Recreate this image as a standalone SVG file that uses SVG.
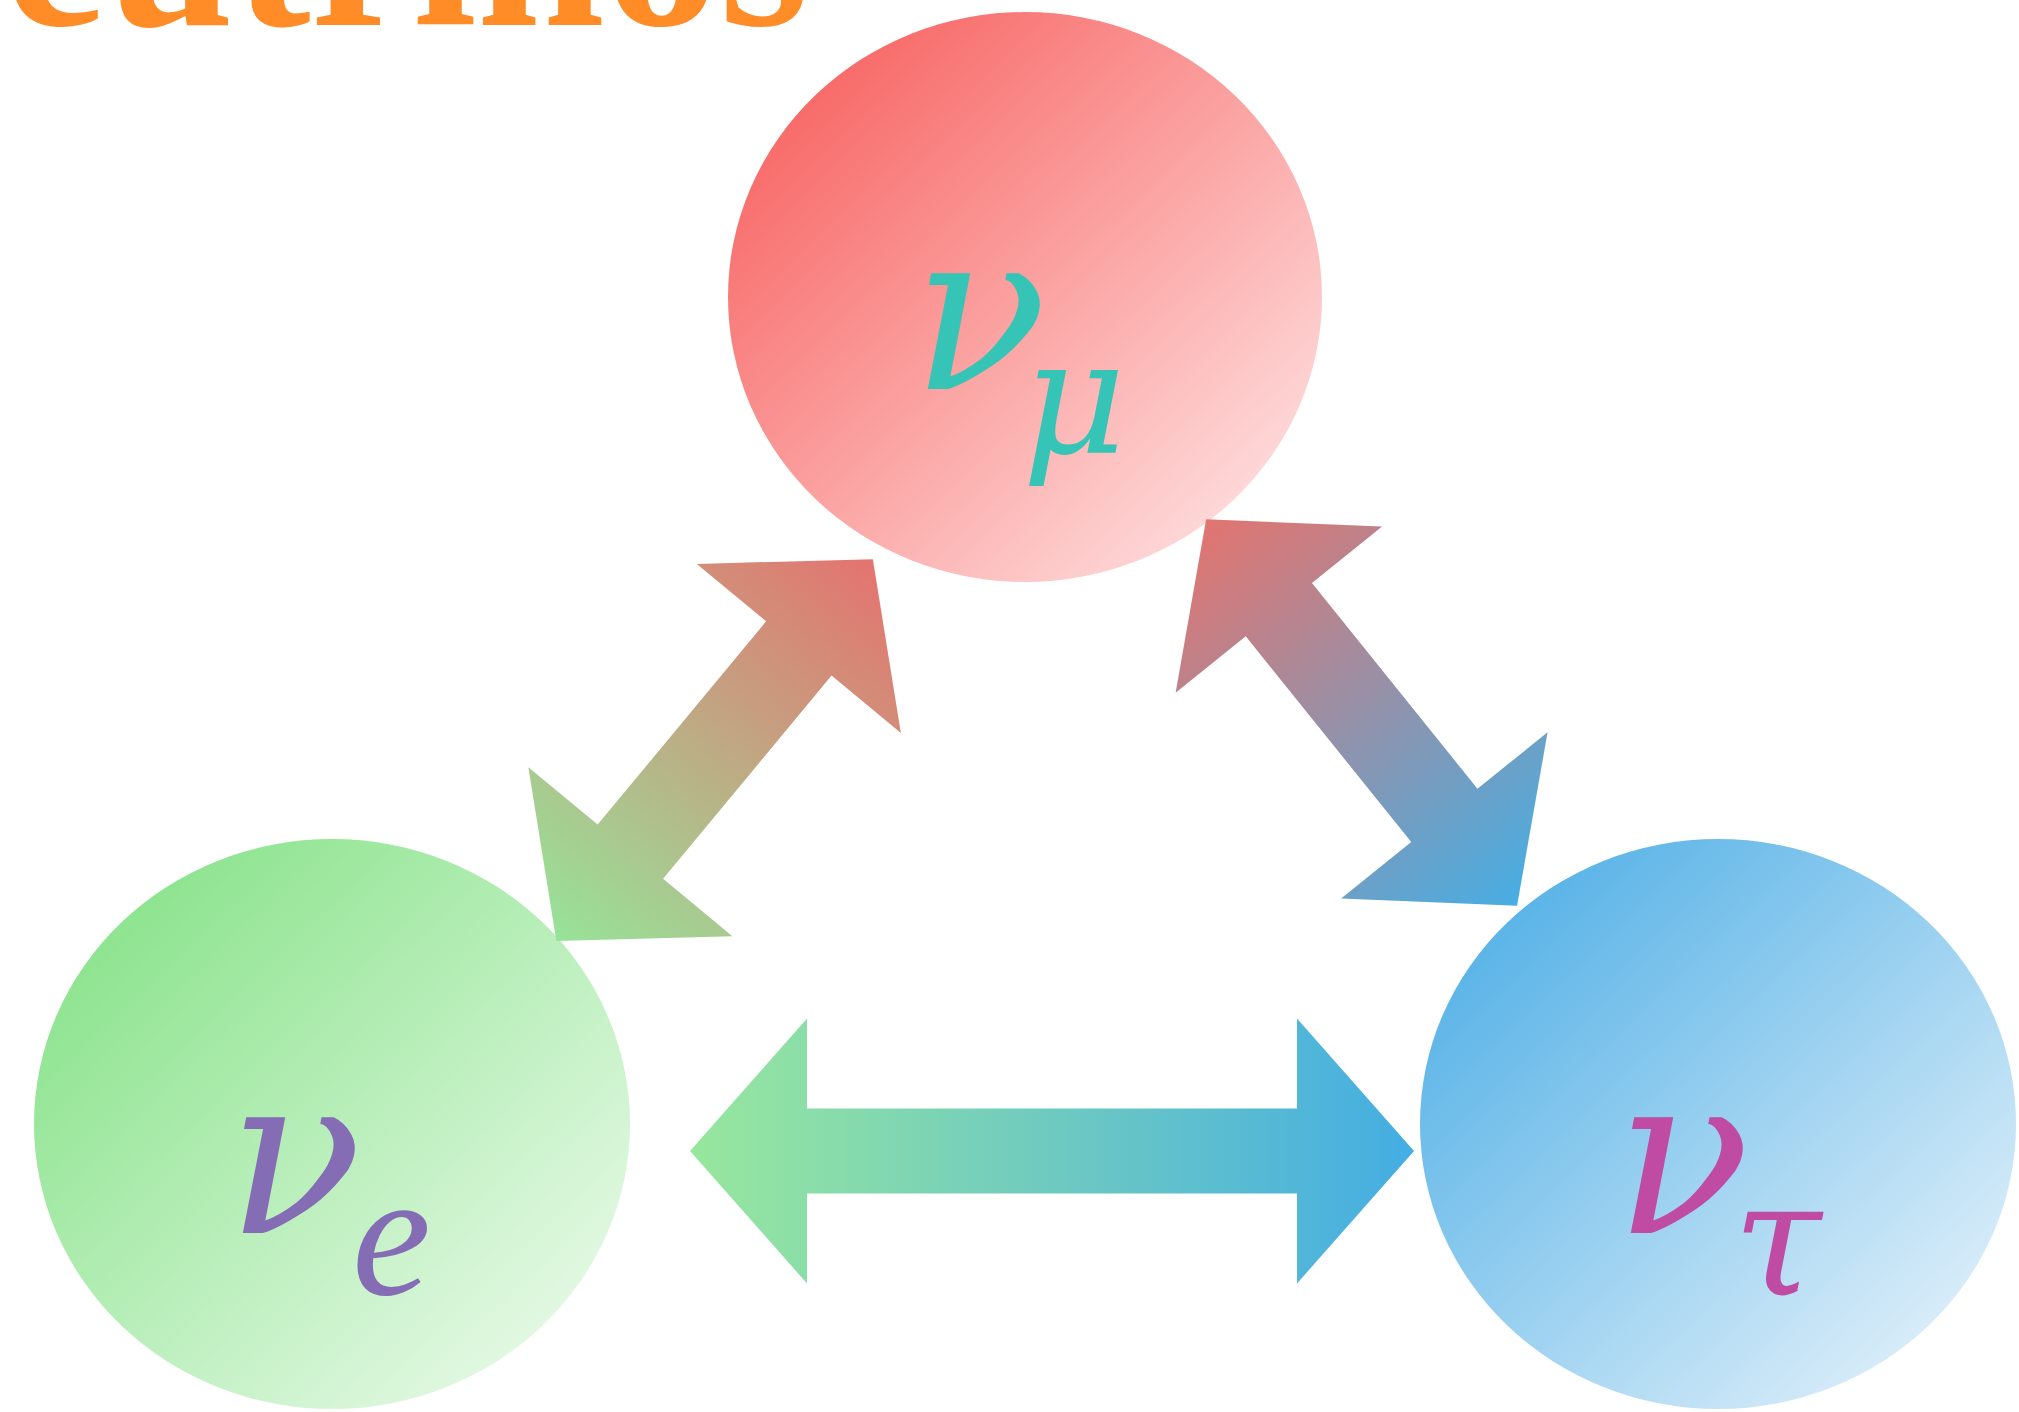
<svg xmlns="http://www.w3.org/2000/svg" width="2019" height="1412" viewBox="0 0 2019 1412">
<defs>
  <style>
    .title { font-family: "Liberation Serif", "Times New Roman", serif; font-weight: bold; font-size: 230px; fill: #FF8C26; }
    .lbl { font-family: "DejaVu Serif", "Liberation Serif", serif; font-style: italic; }
    .nu { font-size: 222px; }
    .subg { font-size: 160px; }
    .sub { font-family: "Liberation Serif", "Times New Roman", serif; font-size: 178px; }
  </style>
  <linearGradient id="gRed" x1="0" y1="0" x2="1" y2="1">
    <stop offset="0" stop-color="#F65654"/>
    <stop offset="1" stop-color="#FFEDED"/>
  </linearGradient>
  <linearGradient id="gGreen" x1="0" y1="0" x2="1" y2="1">
    <stop offset="0" stop-color="#7DE07F"/>
    <stop offset="1" stop-color="#F2FCF2"/>
  </linearGradient>
  <linearGradient id="gBlue" x1="0" y1="0" x2="1" y2="1">
    <stop offset="0" stop-color="#42A9E4"/>
    <stop offset="1" stop-color="#F0F7FC"/>
  </linearGradient>
  <linearGradient id="gArrowGR" gradientUnits="userSpaceOnUse" x1="-248" y1="0" x2="248" y2="0">
    <stop offset="0" stop-color="#97E399"/>
    <stop offset="1" stop-color="#E4736F"/>
  </linearGradient>
  <linearGradient id="gArrowRB" gradientUnits="userSpaceOnUse" x1="-248" y1="0" x2="248" y2="0">
    <stop offset="0" stop-color="#E2746F"/>
    <stop offset="1" stop-color="#47AEE3"/>
  </linearGradient>
  <linearGradient id="gArrowGB" gradientUnits="userSpaceOnUse" x1="-362" y1="0" x2="362" y2="0">
    <stop offset="0" stop-color="#98E79D"/>
    <stop offset="1" stop-color="#44ADE3"/>
  </linearGradient>
</defs>

<rect x="0" y="0" width="2019" height="1412" fill="#FFFFFF"/>

<text class="title" x="-162" y="25">Neutrinos</text>

<g id="node-nu-mu">
  <ellipse cx="1025" cy="297" rx="297" ry="285" fill="url(#gRed)"/>
  <text class="lbl" fill="#35C4B5"><tspan class="nu" x="912" y="389">ν</tspan><tspan class="subg" x="1022" y="453">μ</tspan></text>
</g>

<g id="node-nu-e">
  <ellipse cx="332" cy="1124" rx="298" ry="285" fill="url(#gGreen)"/>
  <text class="lbl" fill="#856DB6"><tspan class="nu" x="227" y="1233">ν</tspan><tspan class="sub" x="352" y="1294">e</tspan></text>
</g>

<g id="node-nu-tau">
  <ellipse cx="1718" cy="1124" rx="298" ry="285" fill="url(#gBlue)"/>
  <text class="lbl" fill="#C04BA2"><tspan class="nu" x="1615" y="1233">ν</tspan><tspan class="subg" x="1733" y="1294">τ</tspan></text>
</g>

<g id="connectors">
  <polygon transform="translate(714.6,750.1) rotate(-50.35)" fill="url(#gArrowGR)"
    points="248,0 132,-132.5 132,-42.5 -132,-42.5 -132,-132.5 -248,0 -132,132.5 -132,42.5 132,42.5 132,132.5"/>
  <polygon transform="translate(1361.6,712.5) rotate(51.18)" fill="url(#gArrowRB)"
    points="248,0 132,-132.5 132,-42.5 -132,-42.5 -132,-132.5 -248,0 -132,132.5 -132,42.5 132,42.5 132,132.5"/>
  <polygon transform="translate(1052,1151)" fill="url(#gArrowGB)"
    points="362,0 245,-132.5 245,-42.5 -245,-42.5 -245,-132.5 -362,0 -245,132.5 -245,42.5 245,42.5 245,132.5"/>
</g>
</svg>
